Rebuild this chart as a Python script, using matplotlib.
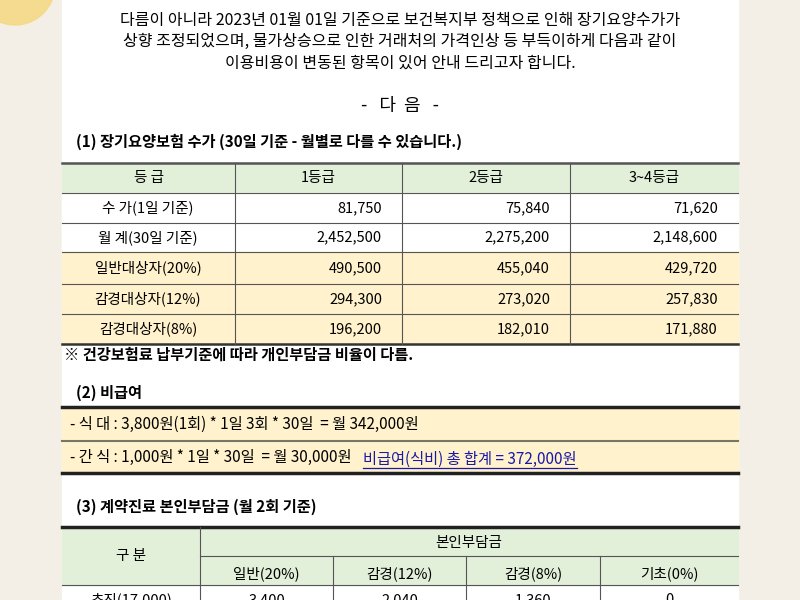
import matplotlib
matplotlib.use("Agg")
import matplotlib.pyplot as plt
from matplotlib.patches import Rectangle, Circle

plt.rcParams['font.family'] = ['Noto Sans CJK KR', 'DejaVu Sans']

intro = ["다름이 아니라 2023년 01월 01일 기준으로 보건복지부 정책으로 인해 장기요양수가가",
         "상향 조정되었으며, 물가상승으로 인한 거래처의 가격인상 등 부득이하게 다음과 같이",
         "이용비용이 변동된 항목이 있어 안내 드리고자 합니다."]
grades = ["등 급", "1등급", "2등급", "3~4등급"]
row_labels = ["수 가(1일 기준)", "월 계(30일 기준)", "일반대상자(20%)", "감경대상자(12%)", "감경대상자(8%)"]
grade1 = ["81,750", "2,452,500", "490,500", "294,300", "196,200"]
grade2 = ["75,840", "2,275,200", "455,040", "273,020", "182,010"]
grade34 = ["71,620", "2,148,600", "429,720", "257,830", "171,880"]
meal_lines = ["- 식 대 : 3,800원(1회) * 1일 3회 * 30일  = 월 342,000원",
              "- 간 식 : 1,000원 * 1일 * 30일  = 월 30,000원"]
meal_total = "비급여(식비) 총 합계 = 372,000원"
copay_head = ["일반(20%)", "감경(12%)", "감경(8%)", "기초(0%)"]
copay_row = ["초진(17,000)", "3,400", "2,040", "1,360", "0"]

fig = plt.figure(figsize=(8, 6), dpi=100)
ax = fig.add_axes([0, 0, 1, 1])
ax.set_xlim(0, 800); ax.set_ylim(600, 0); ax.axis('off')
fig.patch.set_facecolor('#f4efe6')
ax.add_patch(Rectangle((62, 0), 676, 600, color='white', zorder=0))
ax.add_patch(Circle((15, -15), 40, color='#f6d77a', alpha=0.8, zorder=0))

GREEN = '#e2efd9'; YEL = '#fff2cc'
fs = 10.5
for i, t in enumerate(intro):
    ax.text(400, 20 + i * 21.5, t, ha='center', va='center', fontsize=11.5)
ax.text(400, 106, "-   다  음   -", ha='center', va='center', fontsize=13)
ax.text(76, 142, "(1) 장기요양보험 수가 (30일 기준 - 월별로 다를 수 있습니다.)", ha='left', va='center', fontsize=11, weight='bold')

cols = [62, 235, 402, 570, 738]
rows = [163, 193, 223, 252, 284, 314, 344]
fills = [GREEN, 'white', 'white', YEL, YEL, YEL]
for r in range(6):
    ax.add_patch(Rectangle((62, rows[r]), 676, rows[r+1] - rows[r], color=fills[r], zorder=1))
    ax.plot([62, 738], [rows[r], rows[r]], color='#555555', lw=0.8 if r else 1.8, zorder=2)
ax.plot([62, 738], [rows[-1], rows[-1]], color='#333333', lw=1.8, zorder=2)
for c in cols[1:-1]:
    ax.plot([c, c], [rows[0], rows[-1]], color='#555555', lw=0.8, zorder=2)
for j, g in enumerate(grades):
    ax.text((cols[j] + cols[j+1]) / 2, 178, g, ha='center', va='center', fontsize=fs)
for i, lab in enumerate(row_labels):
    y = (rows[i+1] + rows[i+2]) / 2
    ax.text(148, y, lab, ha='center', va='center', fontsize=fs)
    for j, vals in enumerate([grade1, grade2, grade34]):
        ax.text(cols[j+2] - 20, y, vals[i], ha='right', va='center', fontsize=fs)
ax.text(64, 355, "※ 건강보험료 납부기준에 따라 개인부담금 비율이 다름.", ha='left', va='center', fontsize=11, weight='bold')

ax.text(76, 393, "(2) 비급여", ha='left', va='center', fontsize=11, weight='bold')
mb = [407, 441, 473]
for i in range(2):
    ax.add_patch(Rectangle((62, mb[i]), 676, mb[i+1] - mb[i], color=YEL, zorder=1))
    ax.text(70, (mb[i] + mb[i+1]) / 2, meal_lines[i], ha='left', va='center', fontsize=11)
ax.plot([62, 738], [mb[0]] * 2, color='#222222', lw=2.5)
ax.plot([62, 738], [mb[1]] * 2, color='#777766', lw=1.5)
ax.plot([62, 738], [mb[2]] * 2, color='#222222', lw=2.5)
tt = ax.text(363, 459, meal_total, ha='left', va='center', fontsize=11, color='#1a1aa6')
fig.canvas.draw()
bb = tt.get_window_extent().transformed(ax.transData.inverted())
ax.plot([363, bb.x1], [468, 468], color='#1a1aa6', lw=0.9)

ax.text(76, 507, "(3) 계약진료 본인부담금 (월 2회 기준)", ha='left', va='center', fontsize=11, weight='bold')
ax.add_patch(Rectangle((62, 527), 676, 58, color=GREEN, zorder=1))
ax.plot([62, 738], [527, 527], color='#222222', lw=2.5, zorder=2)
ax.plot([200, 738], [556, 556], color='#555555', lw=0.8, zorder=2)
ax.plot([62, 738], [585, 585], color='#555555', lw=0.8, zorder=2)
ax.plot([200, 200], [527, 600], color='#555555', lw=0.8, zorder=2)
c3 = [200, 333, 466, 600, 738]
for c in c3[1:-1]:
    ax.plot([c, c], [556, 600], color='#555555', lw=0.8, zorder=2)
ax.text(131, 556, "구 분", ha='center', va='center', fontsize=fs)
ax.text(469, 543, "본인부담금", ha='center', va='center', fontsize=fs)
for j, h in enumerate(copay_head):
    ax.text((c3[j] + c3[j+1]) / 2, 574, h, ha='center', va='center', fontsize=fs)
ax.text(131, 600, copay_row[0], ha='center', va='center', fontsize=fs)
for j, v in enumerate(copay_row[1:]):
    ax.text((c3[j] + c3[j+1]) / 2, 600, v, ha='center', va='center', fontsize=fs)

fig.savefig("out.png", dpi=100)
